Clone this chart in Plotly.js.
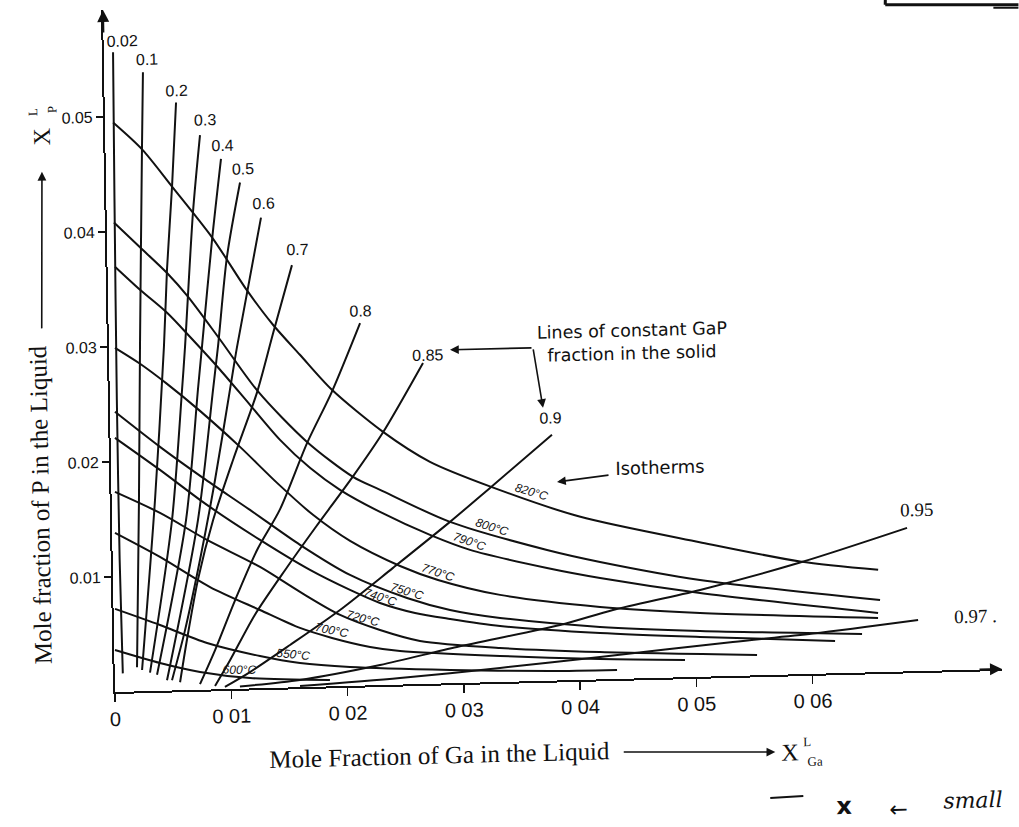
<!DOCTYPE html>
<html>
<head>
<meta charset="utf-8">
<script src="https://cdn.plot.ly/plotly-3.0.1.min.js"></script>
<style>
  html, body { margin: 0; padding: 0; background: #fff; width: 1019px; height: 827px; overflow: hidden; }
  /* the printed figure sits slightly askew on the page */
  #chart { width: 1060px; height: 870px; transform-origin: 115px 692px; transform: matrix(1, -0.026, 0.0176, 1, 0, 0); }
</style>
</head>
<body>
<div id="chart"></div>
<script>
// ---- isotherms: mole fraction of Ga (x) and P (y) in the liquid ----
const isoLabels = ['820°C', '800°C', '790°C', '770°C', '750°C', '740°C', '720°C', '700°C', '550°C', '600°C'];

const iso820_x = [0.0007, 0.00315, 0.00567, 0.00903, 0.01196, 0.01414, 0.01641, 0.01911, 0.02344, 0.02743, 0.0326, 0.0402, 0.0505, 0.0591, 0.0658];
const iso820_y = [0.0495, 0.0471, 0.0438, 0.0393, 0.0346, 0.03156, 0.02889, 0.02577, 0.0220, 0.01929, 0.0170, 0.0142, 0.0117, 0.0098, 0.0089];

const iso800_x = [0.00062, 0.00282, 0.00511, 0.00687, 0.00956, 0.01275, 0.01689, 0.02079, 0.0231, 0.02906, 0.03736, 0.0419, 0.05047, 0.06592];
const iso800_y = [0.0408, 0.0386, 0.0363, 0.0342, 0.0304, 0.0258, 0.0213, 0.01816, 0.01697, 0.01403, 0.01137, 0.01021, 0.00842, 0.00627];

const iso790_x = [0.00064, 0.00276, 0.00505, 0.00698, 0.00952, 0.01204, 0.01457, 0.0171, 0.01965, 0.02306, 0.02732, 0.03074, 0.03733, 0.04188, 0.05045, 0.06573];
const iso790_y = [0.03696, 0.0349, 0.03284, 0.0307, 0.02777, 0.02465, 0.02154, 0.01904, 0.01706, 0.01505, 0.01294, 0.01155, 0.00981, 0.00882, 0.00729, 0.00515];

const iso770_x = [0.00052, 0.00265, 0.00494, 0.00773, 0.01112, 0.01425, 0.01729, 0.02044, 0.0247, 0.02794, 0.03325, 0.04183, 0.05042, 0.06572];
const iso770_y = [0.02991, 0.02847, 0.02666, 0.02424, 0.02102, 0.01781, 0.01495, 0.0126, 0.01031, 0.00901, 0.00757, 0.0063, 0.00555, 0.00471];

const iso750_x = [0.00042, 0.00424, 0.00789, 0.01188, 0.01613, 0.02038, 0.02525, 0.02893, 0.03322, 0.0418, 0.0504, 0.06432];
const iso750_y = [0.02435, 0.0212, 0.01841, 0.01552, 0.01237, 0.00964, 0.00751, 0.00637, 0.00557, 0.00456, 0.00398, 0.00336];

const iso740_x = [0.00038, 0.0042, 0.00819, 0.0127, 0.01695, 0.02036, 0.02292, 0.02592, 0.02892, 0.03321, 0.04179, 0.05039, 0.06199];
const iso740_y = [0.02209, 0.0192, 0.01605, 0.01289, 0.01017, 0.00834, 0.00714, 0.00619, 0.00559, 0.00487, 0.00403, 0.00346, 0.00281];

const iso720_x = [0.0003, 0.00414, 0.00814, 0.01266, 0.01606, 0.01947, 0.02288, 0.0263, 0.03317, 0.04176, 0.05526];
const iso720_y = [0.01739, 0.01546, 0.01301, 0.01054, 0.00828, 0.00619, 0.00479, 0.00375, 0.00296, 0.00238, 0.00177];

const iso700_x = [0.00024, 0.00407, 0.00833, 0.01259, 0.016, 0.01874, 0.022, 0.02457, 0.03316, 0.04175, 0.04906];
const iso700_y = [0.01383, 0.01164, 0.00891, 0.0068, 0.00515, 0.00421, 0.00334, 0.00292, 0.00226, 0.00177, 0.0015];

const iso550_x = [0.00013, 0.00397, 0.00799, 0.01252, 0.01595, 0.02024, 0.02884, 0.03744, 0.0432];
const iso550_y = [0.00722, 0.00572, 0.00405, 0.0028, 0.0021, 0.00164, 0.00116, 0.00084, 0.00078];

const iso600_x = [0.00006, 0.00391, 0.00734, 0.01163, 0.0185];
const iso600_y = [0.00365, 0.00242, 0.00155, 0.00091, 0.00056];

// ---- lines of constant GaP fraction in the solid ----
const fracLabels = ['0.02', '0.1', '0.2', '0.3', '0.4', '0.5', '0.6', '0.7', '0.8', '0.85', '0.9', '0.95', '0.97 .'];

const frac002_x = [0.0008, 0.0007, 0.0006, 0.0006, 0.0007];
const frac002_y = [0.0556, 0.0428, 0.0254, 0.0115, 0.0016];

const frac01_x = [0.00334, 0.00314, 0.00267, 0.00235, 0.00193];
const frac01_y = [0.0538, 0.0471, 0.0299, 0.0166, 0.0021];

const frac02_x = [0.00614, 0.00567, 0.00511, 0.00473, 0.00373, 0.00236];
const frac02_y = [0.0511, 0.0438, 0.0366, 0.0299, 0.0166, 0.00185];

const frac03_x = [0.00815, 0.00743, 0.00654, 0.00622, 0.00516, 0.00304];
const frac03_y = [0.0482, 0.0415, 0.0298, 0.0261, 0.0148, 0.0016];

const frac04_x = [0.00992, 0.00903, 0.0080, 0.00759, 0.00637, 0.00364];
const frac04_y = [0.0461, 0.0391, 0.0298, 0.0261, 0.0148, 0.0014];

const frac05_x = [0.01152, 0.01029, 0.00938, 0.00888, 0.0074, 0.00449];
const frac05_y = [0.0440, 0.0376, 0.0298, 0.0260, 0.0148, 0.0009];

const frac06_x = [0.01327, 0.01101, 0.01034, 0.00892, 0.00751, 0.00611, 0.00492];
const frac06_y = [0.0409, 0.0297, 0.0260, 0.0182, 0.0113, 0.0052, 0.0009];

const frac07_x = [0.01586, 0.01413, 0.01266, 0.0105, 0.00869, 0.00731, 0.00627, 0.00561];
const frac07_y = [0.0367, 0.0308, 0.0257, 0.0199, 0.0147, 0.0096, 0.0044, 0.0007];

const frac08_x = [0.02163, 0.0191, 0.01689, 0.01446, 0.01242, 0.01046, 0.00866, 0.00732];
const frac08_y = [0.0315, 0.0256, 0.0212, 0.0155, 0.0120, 0.0077, 0.0034, 0.0005];

const frac085_x = [0.02698, 0.0234, 0.02079, 0.01745, 0.0148, 0.01215, 0.00994, 0.00861];
const frac085_y = [0.0279, 0.0219, 0.0182, 0.0138, 0.0102, 0.0064, 0.0025, 0.0003];

const frac09_x = [0.03796, 0.03255, 0.02906, 0.02409, 0.01947, 0.01512, 0.01164, 0.00946];
const frac09_y = [0.02136, 0.01689, 0.01403, 0.01016, 0.00662, 0.00369, 0.00143, 0.0002];

const frac095_x = [0.06835, 0.0591, 0.05046, 0.04294, 0.03837, 0.02947, 0.02283, 0.01592, 0.01075];
const frac095_y = [0.01247, 0.0097, 0.00755, 0.0060, 0.00482, 0.00314, 0.00175, 0.00063, 0.0002];

const frac097_x = [0.06916, 0.0601, 0.0532, 0.04176, 0.03314, 0.02452, 0.01592];
const frac097_y = [0.00444, 0.0035, 0.00295, 0.00195, 0.00122, 0.00057, 0.0001];

// ---- axis ticks ----
const xTickVals = [0, 0.01, 0.02, 0.03, 0.04, 0.05, 0.06];
const xTickText = ['0', '0 01', '0 02', '0 03', '0 04', '0 05', '0 06'];
const yTickVals = [0.01, 0.02, 0.03, 0.04, 0.05];
const yTickText = ['0.01', '0.02', '0.03', '0.04', '0.05'];

const isoSeries = [
  [iso820_x, iso820_y], [iso800_x, iso800_y], [iso790_x, iso790_y], [iso770_x, iso770_y],
  [iso750_x, iso750_y], [iso740_x, iso740_y], [iso720_x, iso720_y], [iso700_x, iso700_y],
  [iso550_x, iso550_y], [iso600_x, iso600_y]
];
const fracSeries = [
  [frac002_x, frac002_y], [frac01_x, frac01_y], [frac02_x, frac02_y], [frac03_x, frac03_y],
  [frac04_x, frac04_y], [frac05_x, frac05_y], [frac06_x, frac06_y], [frac07_x, frac07_y],
  [frac08_x, frac08_y], [frac085_x, frac085_y], [frac09_x, frac09_y], [frac095_x, frac095_y],
  [frac097_x, frac097_y]
];

const ink = '#111';
const traces = [];
isoSeries.forEach(function (s, i) {
  traces.push({ x: s[0], y: s[1], mode: 'lines', name: isoLabels[i], hoverinfo: 'name',
    line: { color: ink, width: 2, shape: 'spline', smoothing: 0.8 } });
});
fracSeries.forEach(function (s, i) {
  traces.push({ x: s[0], y: s[1], mode: 'lines', name: fracLabels[i], hoverinfo: 'name',
    line: { color: ink, width: 2, shape: 'spline', smoothing: 0.8 } });
});

const sans = 'Liberation Sans, Arial, sans-serif';
const serif = 'Liberation Serif, Times New Roman, serif';
const dejavu = 'DejaVu Sans, sans-serif';
const ann = [];

// labels at the top of each constant-fraction line
const fracLabelPos = [
  [0.00159, 0.0566], [0.00371, 0.0549], [0.00616, 0.05212], [0.0086, 0.04954], [0.01003, 0.04723],
  [0.0118, 0.04519], [0.01347, 0.0421], [0.01632, 0.03802], [0.02164, 0.03257], [0.02742, 0.0286],
  [0.03782, 0.02284], [0.06924, 0.01401], [0.07208, 0.00463]
];
fracLabels.forEach(function (t, i) {
  const big = (i >= 11);
  ann.push({ x: fracLabelPos[i][0], y: fracLabelPos[i][1], xref: 'x', yref: 'y', text: t, showarrow: false,
    xanchor: i === 12 ? 'left' : 'center', yanchor: 'middle',
    font: { family: big ? serif : sans, size: big ? 19 : 16, color: ink } });
});

// isotherm labels written along each curve
const isoLabelPos = [
  [0.03616, 0.01645, 18], [0.03267, 0.0135, 19], [0.03075, 0.01224, 21], [0.02795, 0.00962, 20],
  [0.02526, 0.00812, 18], [0.02293, 0.00766, 20], [0.02143, 0.00579, 16], [0.01875, 0.0049, 13],
  [0.01536, 0.0029, 7], [0.01078, 0.00163, 2]
];
isoLabels.forEach(function (t, i) {
  ann.push({ x: isoLabelPos[i][0], y: isoLabelPos[i][1], xref: 'x', yref: 'y', text: t, showarrow: false,
    textangle: isoLabelPos[i][2], font: { family: sans, size: 12, color: ink, style: 'italic' } });
});

// callouts
ann.push({ x: 0.03666, y: 0.03027, xref: 'x', yref: 'y', xanchor: 'left', yanchor: 'middle', text: 'Lines of constant GaP',
  showarrow: false, font: { family: dejavu, size: 17.5, color: ink } });
ann.push({ x: 0.03748, y: 0.02824, xref: 'x', yref: 'y', xanchor: 'left', yanchor: 'middle', text: 'fraction in the solid',
  showarrow: false, font: { family: dejavu, size: 17.5, color: ink } });
ann.push({ x: 0.02932, y: 0.02898, xref: 'x', yref: 'y', ax: 0.03646, ay: 0.02897, axref: 'x', ayref: 'y',
  text: '', showarrow: true, arrowhead: 2, arrowsize: 1.1, arrowwidth: 1.6, arrowcolor: ink });
ann.push({ x: 0.03723, y: 0.02373, xref: 'x', yref: 'y', ax: 0.03646, ay: 0.02897, axref: 'x', ayref: 'y',
  text: '', showarrow: true, arrowhead: 2, arrowsize: 1.1, arrowwidth: 1.6, arrowcolor: ink });
ann.push({ x: 0.04316, y: 0.01826, xref: 'x', yref: 'y', xanchor: 'left', yanchor: 'middle', text: 'Isotherms',
  showarrow: false, font: { family: dejavu, size: 18, color: ink } });
ann.push({ x: 0.03832, y: 0.01726, xref: 'x', yref: 'y', ax: 0.04289, ay: 0.01775, axref: 'x', ayref: 'y',
  text: '', showarrow: true, arrowhead: 2, arrowsize: 1.1, arrowwidth: 1.6, arrowcolor: ink });

// arrowheads closing the two axes
ann.push({ x: 0, y: 0.0593, xref: 'x', yref: 'y', ax: 0, ay: 24, text: '', showarrow: true,
  arrowhead: 2, arrowsize: 1.2, arrowwidth: 2, arrowcolor: ink });
ann.push({ x: 0.0763, y: 0, xref: 'x', yref: 'y', ax: -24, ay: 0, text: '', showarrow: true,
  arrowhead: 2, arrowsize: 1.2, arrowwidth: 2, arrowcolor: ink });

// helper for text placed around the frame
function note(x, y, text, font, angle) {
  ann.push({ x: x, y: y, xref: 'paper', yref: 'paper', xanchor: 'center', yanchor: 'middle',
    text: text, textangle: angle || 0, showarrow: false, font: font });
}

// x axis title
note(0.3652, -0.1048, 'Mole Fraction of Ga in the Liquid', { family: serif, size: 25, color: ink });
ann.push({ x: 0.7429, y: -0.1132, xref: 'paper', yref: 'paper', ax: -153, ay: -4, text: '', showarrow: true,
  arrowhead: 2, arrowsize: 1.1, arrowwidth: 1.6, arrowcolor: ink });
note(0.7598, -0.1137, 'X', { family: serif, size: 24, color: ink });
note(0.7791, -0.0997, 'L', { family: serif, size: 13, color: ink });
note(0.7878, -0.1290, 'Ga', { family: serif, size: 13, color: ink });

// y axis title (reads upward)
note(-0.0808, 0.2770, 'Mole fraction of P in the Liquid', { family: serif, size: 25, color: ink }, -90);
ann.push({ x: -0.0720, y: 0.7652, xref: 'paper', yref: 'paper', ax: -3, ay: 158, text: '', showarrow: true,
  arrowhead: 2, arrowsize: 1.1, arrowwidth: 1.6, arrowcolor: ink });
note(-0.0712, 0.8166, 'X', { family: serif, size: 24, color: ink }, -90);
note(-0.0809, 0.8535, 'L', { family: serif, size: 13, color: ink }, -90);
note(-0.0595, 0.8557, 'P', { family: serif, size: 13, color: ink }, -90);

// pencil note below the figure
note(0.8196, -0.1950, 'x', { family: dejavu, size: 24, color: ink, weight: 'bold' });
note(0.8804, -0.2015, '←', { family: dejavu, size: 22, color: ink });
note(0.9641, -0.1911, 'small', { family: 'DejaVu Serif, serif', size: 22, color: ink, style: 'italic' });

const shapes = [
  // page rule at the top right corner
  { type: 'line', xref: 'paper', yref: 'paper', x0: 0.8816, y0: 0.9780, x1: 1.0317, y1: 0.9729, line: { color: ink, width: 3 } },
  { type: 'line', xref: 'paper', yref: 'paper', x0: 0.8816, y0: 0.9780, x1: 0.8818, y1: 0.9853, line: { color: ink, width: 3 } },
  { type: 'line', xref: 'paper', yref: 'paper', x0: 1.0034, y0: 0.9695, x1: 1.0316, y1: 0.9685, line: { color: ink, width: 2 } },
  // pencil underline
  { type: 'line', xref: 'paper', yref: 'paper', x0: 0.7363, y0: -0.1804, x1: 0.7736, y1: -0.1788, line: { color: ink, width: 2 } }
];

const layout = {
  width: 1060, height: 870,
  margin: { l: 115, r: 58, t: 10, b: 178 },
  paper_bgcolor: '#fff', plot_bgcolor: '#fff',
  showlegend: false,
  xaxis: {
    range: [0, 0.0763], showgrid: false, zeroline: false,
    showline: true, linecolor: ink, linewidth: 2,
    tickmode: 'array', tickvals: xTickVals, ticktext: xTickText,
    ticks: 'outside', ticklen: 8, tickwidth: 1.5, tickcolor: ink,
    tickfont: { family: sans, size: 20, color: ink }
  },
  yaxis: {
    range: [0, 0.0593], showgrid: false, zeroline: false,
    showline: true, linecolor: ink, linewidth: 2,
    tickmode: 'array', tickvals: yTickVals, ticktext: yTickText,
    ticks: 'outside', ticklen: 7, tickwidth: 1.5, tickcolor: ink,
    tickfont: { family: sans, size: 16, color: ink }
  },
  annotations: ann,
  shapes: shapes
};

Plotly.newPlot('chart', traces, layout, { displayModeBar: false, staticPlot: true });
</script>
</body>
</html>
